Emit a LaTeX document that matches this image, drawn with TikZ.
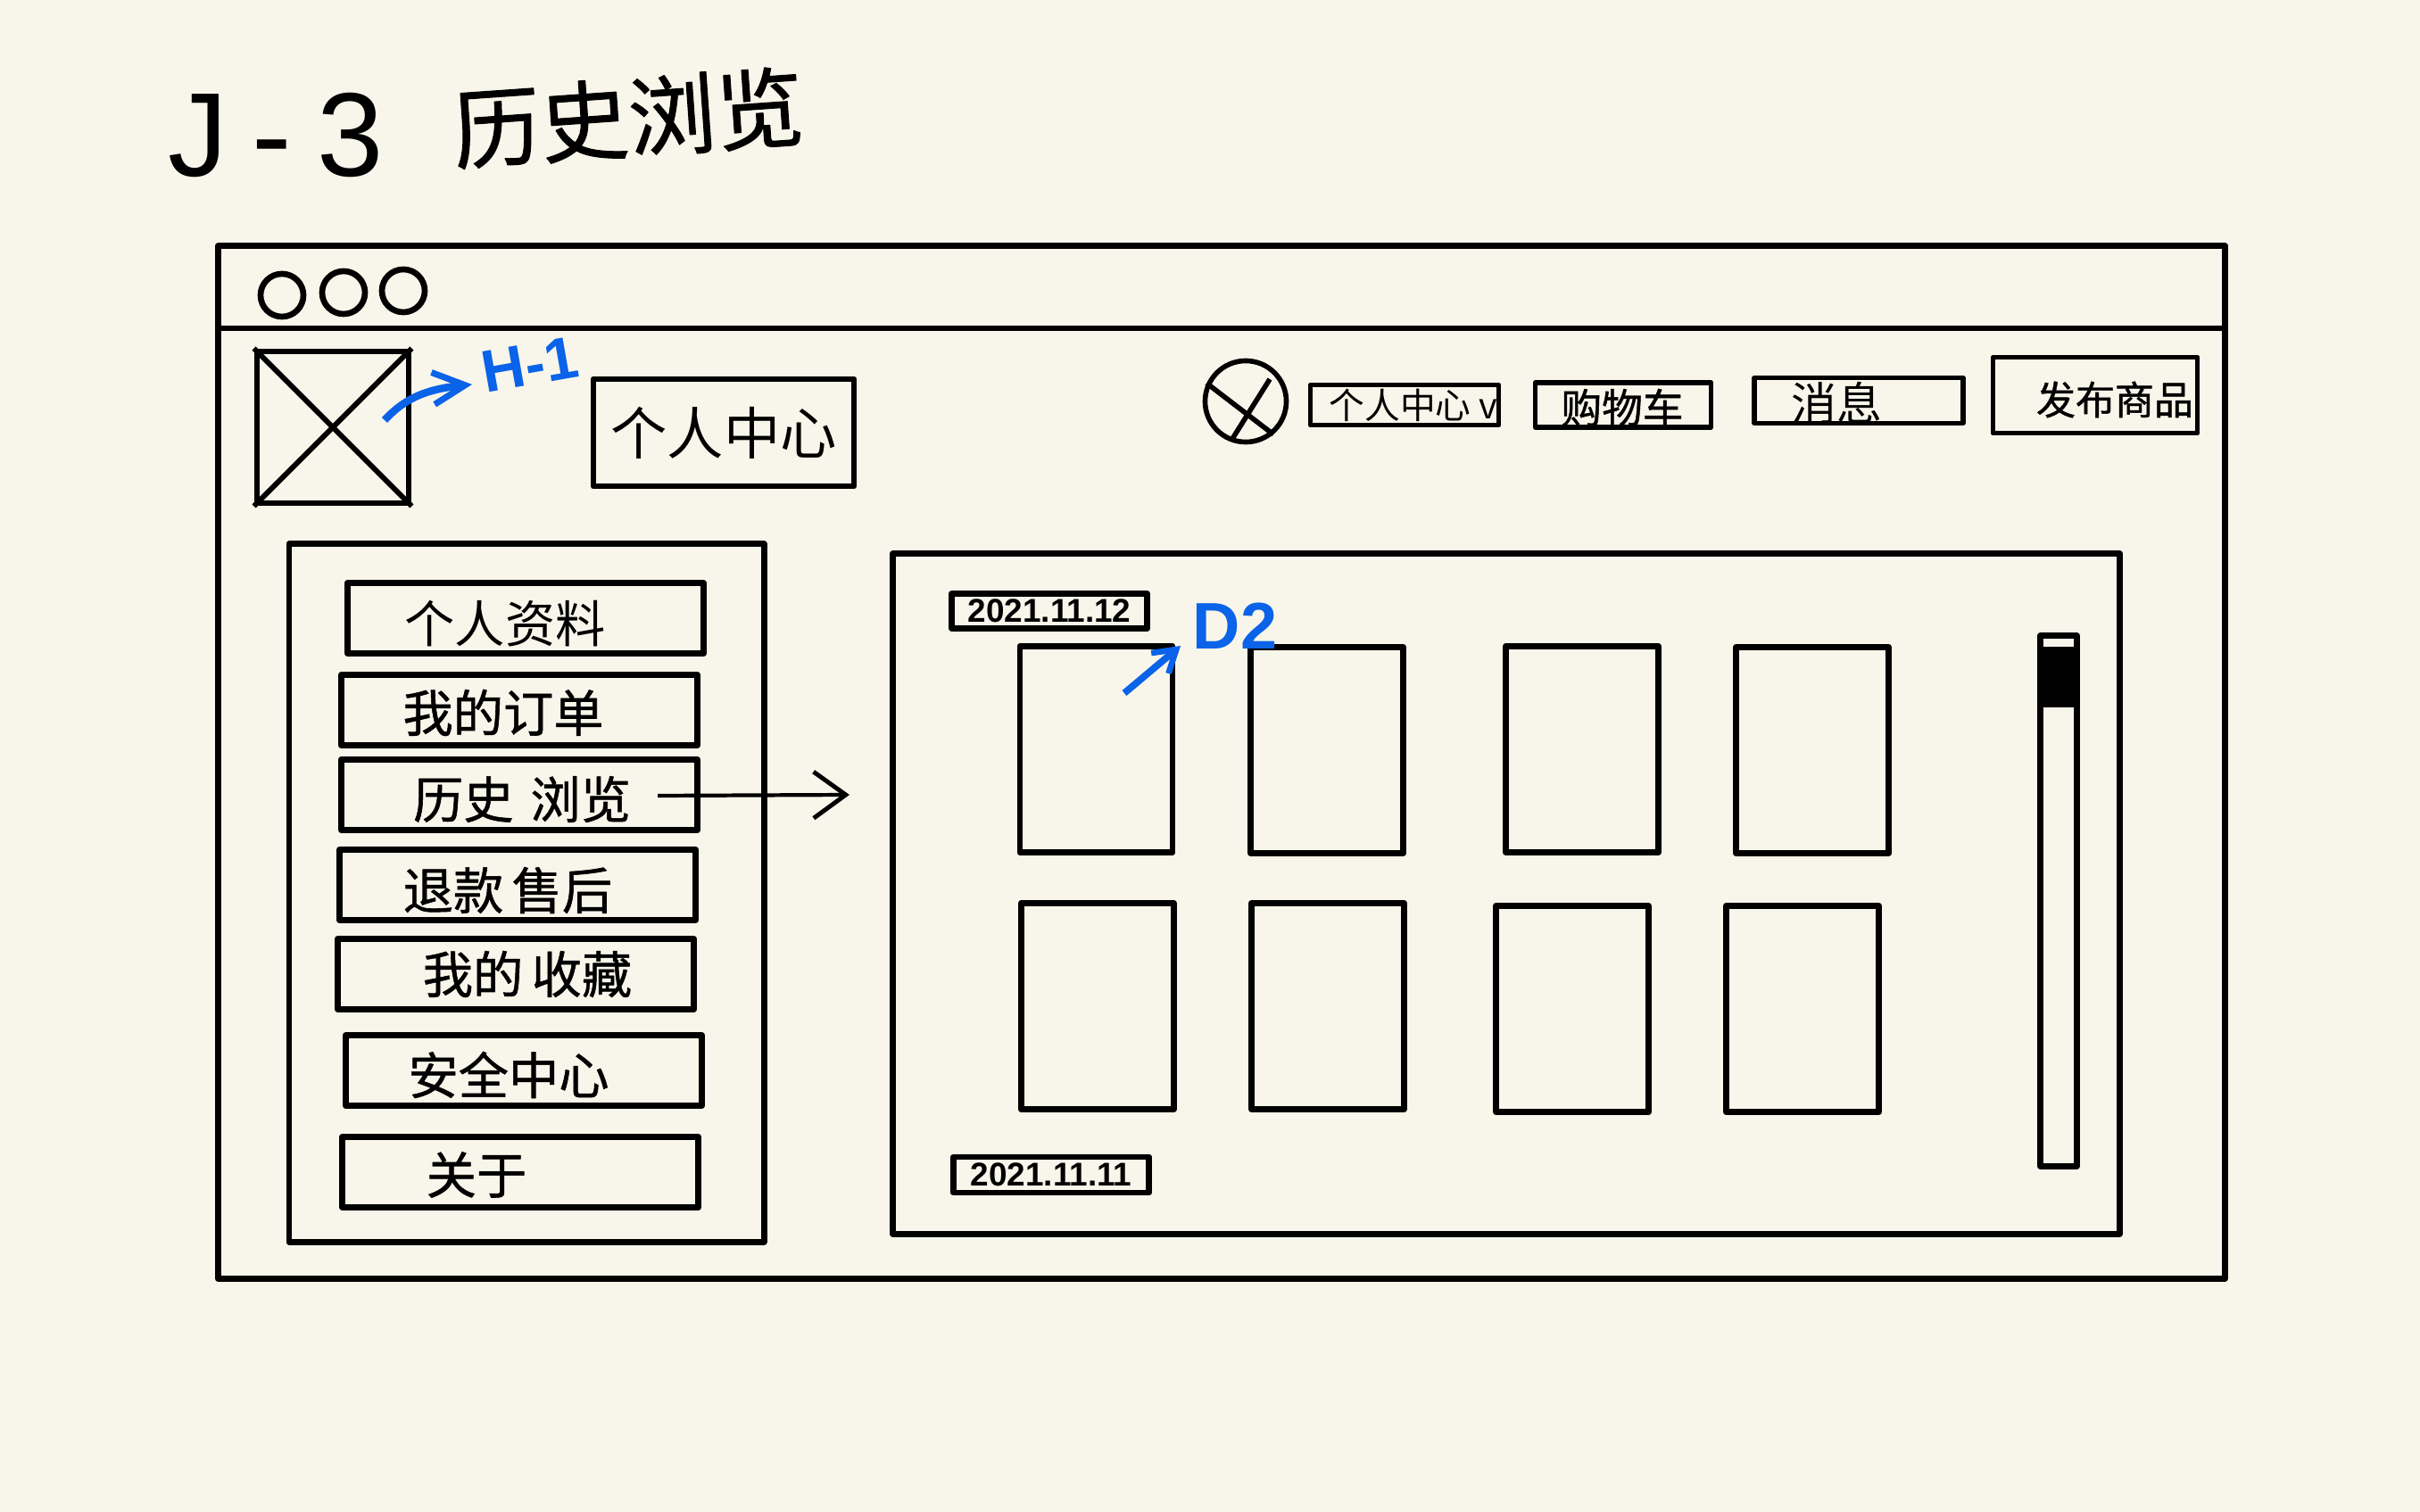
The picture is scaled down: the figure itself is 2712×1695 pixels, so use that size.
\documentclass[tikz,border=0pt]{standalone}
\usepackage{fontspec}
\usetikzlibrary{arrows.meta}
\setmainfont{Liberation Sans}
\newfontfamily\cjk{Noto Sans CJK SC}
\newfontfamily\cjkpen[FakeBold=1]{Noto Sans CJK SC}
\definecolor{paper}{HTML}{F8F6EA}
\definecolor{pen}{HTML}{0A63E8}
\tikzset{
	frame/.style={draw=black,line width=1.9pt,rectangle,inner sep=0pt,line join=round},
	tab/.style={draw=black,line width=1.5pt,rectangle,inner sep=0pt,line join=round},
	dot/.style={draw=black,line width=1.9pt,circle,inner sep=0pt,minimum size=.48cm},
	item/.style={font=\cjkpen\fontsize{16}{16}\selectfont,inner sep=0pt},
	small/.style={inner sep=0pt},
}
\begin{document}
\begin{tikzpicture}[x=.01cm,y=-.01cm,>=stealth,line join=round]
	\useasboundingbox (0,0) rectangle (2712,1695);
	\fill[paper] (0,0) rectangle (2712,1695);
	% title
	\node[inner sep=0pt,font=\fontsize{38}{38}\selectfont] (code) at (309,152) {J\hspace{8pt}-\hspace{8pt}3};
	\node[inner sep=0pt,font=\cjkpen\fontsize{28}{28}\selectfont,rotate=4] (name) at (704,132) {历史浏览};
	% window
	\node[frame,minimum width=22.48cm,minimum height=11.57cm] (win) at (1369,854.5) {};
	\draw[line width=1.9pt] (win.west |- 0,368) coordinate (barl) -- (barl -| win.east);
	\node[dot] (d1) at (316,331) {};
	\node[dot] (d2) at (385,328) {};
	\node[dot] (d3) at (452,326) {};
	% header
	\node[frame,minimum width=1.70cm,minimum height=1.70cm] (logo) at (373,479) {};
	\draw[line width=1.7pt] (logo.north west)--(logo.south east) (logo.north east)--(logo.south west);
	\node[frame,minimum width=2.92cm,minimum height=1.20cm,font=\cjk\fontsize{18}{18}\selectfont] (title) at (811,485) {个人中心};
	\node[draw=black,line width=1.6pt,circle,inner sep=0pt,minimum size=.91cm] (face) at (1396,450) {};
	\draw[line width=1.6pt] (face.155)--(face.-50) (1423,425)--(1381,492);
	\node[tab,minimum width=2.11cm,minimum height=.45cm] (own) at (1574,454) {};
	\node[small,font=\cjk\fontsize{11.3}{11.3}\selectfont] (ownt) at (1584,454) {个人中心 v};
	\node[tab,minimum width=1.97cm,minimum height=.50cm] (cart) at (1819,454) {};
	\node[small,font=\cjkpen\fontsize{13}{13}\selectfont] (cartt) at (1818,457) {购物车};
	\node[tab,minimum width=2.34cm,minimum height=.51cm] (news) at (2083,449) {};
	\node[small,font=\cjk\fontsize{14.5}{14.5}\selectfont] (newst) at (2058,452) {消息};
	\node[tab,minimum width=2.29cm,minimum height=.85cm] (post) at (2348,443) {};
	\node[small,font=\cjkpen\fontsize{12.5}{12.5}\selectfont] (postt) at (2370,448) {发布商品};
	% blue notes
	\coordinate (hfrom) at (431,471);
	\coordinate (hto) at (529,431);
	\draw[-{Straight Barb[length=.36cm,width=.36cm,line width=2pt]},pen,line width=2.4pt] (hfrom) .. controls (455,445) and (480,436) .. (hto);
	\node[text=pen,inner sep=0pt,font=\bfseries\fontsize{19}{19}\selectfont,rotate=10] (hnote) at (594,409) {H-1};
	% side menu
	\node[frame,minimum width=5.32cm,minimum height=7.82cm] (side) at (590,1001) {};
	\node[frame,minimum width=3.99cm,minimum height=.79cm] (m1) at (589,693) {};
	\node[frame,minimum width=3.99cm,minimum height=.79cm] (m2) at (582,796) {};
	\node[frame,minimum width=3.99cm,minimum height=.79cm] (m3) at (582,891) {};
	\node[frame,minimum width=3.99cm,minimum height=.79cm] (m4) at (580,992) {};
	\node[frame,minimum width=3.99cm,minimum height=.79cm] (m5) at (578,1092) {};
	\node[frame,minimum width=3.99cm,minimum height=.79cm] (m6) at (587,1200) {};
	\node[frame,minimum width=3.99cm,minimum height=.79cm] (m7) at (583,1314) {};
	\node[item,font=\cjk\fontsize{16}{16}\selectfont] (t1) at (566,699) {个人资料};
	\node[item] (t2) at (564,799) {我的订单};
	\node[item] (t3) at (585,896) {历史\,\,浏览};
	\node[item] (t4) at (569,998) {退款\,售后};
	\node[item] (t5) at (591,1092) {我的\,收藏};
	\node[item] (t6) at (570,1205) {安全中心};
	\node[item] (t7) at (534,1317) {关于};
	% content
	\node[frame,minimum width=13.74cm,minimum height=7.62cm] (main) at (1688,1002) {};
	\coordinate (from) at (737,892);
	\coordinate (to) at (952,891);
	\draw[-{Straight Barb[length=.36cm,width=.52cm,line width=1.4pt]},line width=1.2pt] (from) -- (to);
	\node[frame,minimum width=2.19cm,minimum height=.39cm,font=\bfseries\fontsize{10.5}{10.5}\selectfont] (date1) at (1176,685) {2021.11.12};
	\node[frame,minimum width=2.19cm,minimum height=.40cm,font=\bfseries\fontsize{10.5}{10.5}\selectfont] (date2) at (1178,1317) {2021.11.11};
	\node[frame,minimum width=1.71cm,minimum height=2.31cm] (c1) at (1228.5,840) {};
	\node[frame,minimum width=1.71cm,minimum height=2.31cm] (c2) at (1487,841) {};
	\node[frame,minimum width=1.71cm,minimum height=2.31cm] (c3) at (1773,840) {};
	\node[frame,minimum width=1.71cm,minimum height=2.31cm] (c4) at (2031,841) {};
	\node[frame,minimum width=1.71cm,minimum height=2.31cm] (c5) at (1230,1128) {};
	\node[frame,minimum width=1.71cm,minimum height=2.31cm] (c6) at (1488,1128) {};
	\node[frame,minimum width=1.71cm,minimum height=2.31cm] (c7) at (1762,1131) {};
	\node[frame,minimum width=1.71cm,minimum height=2.31cm] (c8) at (2020,1131) {};
	\coordinate (dfrom) at (1260,777);
	\coordinate (dto) at (1323,724);
	\draw[-{Straight Barb[length=.24cm,width=.3cm,line width=1.9pt]},pen,line width=2.2pt] (dfrom) -- (dto);
	\node[text=pen,inner sep=0pt,font=\bfseries\fontsize{21}{21}\selectfont] (dnote) at (1384,702) {D2};
	% scroll bar
	\node[frame,minimum width=.41cm,minimum height=5.94cm] (bar) at (2307,1010) {};
	\node[fill=black,inner sep=0pt,minimum width=.46cm,minimum height=.68cm] (thumb) at (2307,759) {};
\end{tikzpicture}
\end{document}
